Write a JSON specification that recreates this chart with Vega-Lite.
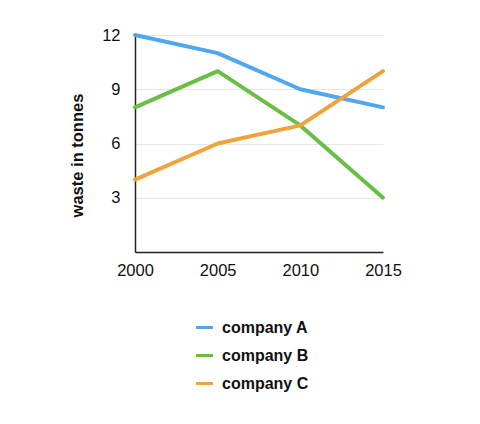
{
  "$schema": "https://vega.github.io/schema/vega-lite/v6.json",
  "width": 248,
  "height": 217,
  "autosize": {"type": "none"},
  "padding": {"left": 135, "top": 35, "right": 97, "bottom": 172},
  "background": "white",
  "config": {
    "view": {"stroke": null},
    "font": "Liberation Sans"
  },
  "data": {
    "values": [
      {"year": 2000, "company": "company A", "waste": 12},
      {"year": 2005, "company": "company A", "waste": 11},
      {"year": 2010, "company": "company A", "waste": 9},
      {"year": 2015, "company": "company A", "waste": 8},
      {"year": 2000, "company": "company B", "waste": 8},
      {"year": 2005, "company": "company B", "waste": 10},
      {"year": 2010, "company": "company B", "waste": 7},
      {"year": 2015, "company": "company B", "waste": 3},
      {"year": 2000, "company": "company C", "waste": 4},
      {"year": 2005, "company": "company C", "waste": 6},
      {"year": 2010, "company": "company C", "waste": 7},
      {"year": 2015, "company": "company C", "waste": 10}
    ]
  },
  "mark": {"type": "line", "strokeWidth": 4, "strokeCap": "round", "strokeJoin": "round"},
  "encoding": {
    "x": {
      "field": "year",
      "type": "quantitative",
      "scale": {"domain": [2000, 2015], "nice": false, "zero": false},
      "axis": {
        "values": [2000, 2005, 2010, 2015],
        "format": "d",
        "title": null,
        "grid": false,
        "ticks": false,
        "labelFlush": false,
        "domainColor": "#222222",
        "domainWidth": 1.5,
        "labelFontSize": 16.5,
        "labelColor": "#111111",
        "labelPadding": 10
      }
    },
    "y": {
      "field": "waste",
      "type": "quantitative",
      "scale": {"domain": [0, 12], "nice": false},
      "axis": {
        "values": [3, 6, 9, 12],
        "title": "waste in tonnes",
        "titleFontSize": 16.5,
        "titleFontWeight": "bold",
        "titleColor": "#111111",
        "titlePadding": 16,
        "titleY": 120,
        "grid": true,
        "gridColor": "#e6e6e6",
        "gridWidth": 1,
        "ticks": false,
        "labelFlush": false,
        "domainColor": "#222222",
        "domainWidth": 1.5,
        "labelFontSize": 16.5,
        "labelColor": "#111111",
        "labelPadding": 15
      }
    },
    "color": {
      "field": "company",
      "type": "nominal",
      "scale": {
        "domain": ["company A", "company B", "company C"],
        "range": ["#4FA7F0", "#6BBE45", "#F0A33A"]
      },
      "legend": {
        "title": null,
        "orient": "none",
        "legendX": 59,
        "legendY": 282,
        "direction": "vertical",
        "symbolType": "stroke",
        "symbolSize": 290,
        "symbolStrokeWidth": 3,
        "labelFontSize": 16,
        "labelFontWeight": "bold",
        "labelColor": "#111111",
        "labelOffset": 7,
        "rowPadding": 9
      }
    }
  }
}
